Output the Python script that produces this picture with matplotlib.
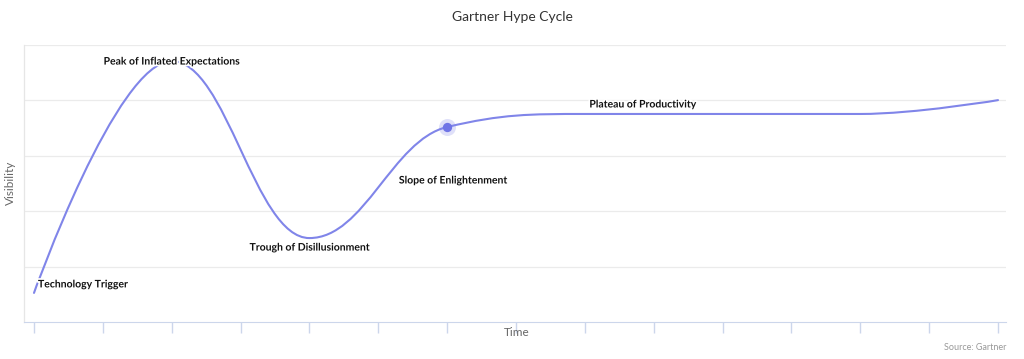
import matplotlib
matplotlib.use("Agg")
import matplotlib.pyplot as plt
from matplotlib.path import Path
from matplotlib.patches import PathPatch
import matplotlib.patheffects as pe

# ---- data ----
time_pos = [0, 2, 4, 6, 8, 12, 14]
visibility = [10.5, 94.2, 30.3, 70.4, 75.1, 75.1, 80.1]
tick_positions = list(range(15))
phase_names = ["Technology Trigger", "Peak of Inflated Expectations",
               "Trough of Disillusionment", "Slope of Enlightenment",
               "Plateau of Productivity"]
phase_point = [0, 1, 2, 3, 4]   # index into the series each label is attached to
highlight_point = 3
title = "Gartner Hype Cycle"
x_title = "Time"
y_title = "Visibility"
credit = "Source: Gartner"

line_color = "#8085e9"
plt.rcParams['font.family'] = ['Lato', 'DejaVu Sans']

fig = plt.figure(figsize=(10.24, 3.59), dpi=100)
fig.patch.set_facecolor("white")
W, H = 1024, 359
ax = fig.add_axes([24 / W, (H - 322) / H, (1006 - 24) / W, (322 - 45) / H])
ppu = (998 - 34) / 14.0
ax.set_xlim(0 - (34 - 24) / ppu, 14 + (1006 - 998) / ppu)
ax.set_ylim(0, 100)


# Highcharts-style spline (smoothing 1.5, with overshoot clamping)
def spline_path(xs, ys, smoothing=1.5):
    n = len(xs)
    ctrl = []
    for i in range(n):
        if i == 0 or i == n - 1:
            ctrl.append(((xs[i], ys[i]), (xs[i], ys[i])))
            continue
        d = smoothing + 1
        lx = (smoothing * xs[i] + xs[i - 1]) / d
        ly = (smoothing * ys[i] + ys[i - 1]) / d
        rx = (smoothing * xs[i] + xs[i + 1]) / d
        ry = (smoothing * ys[i] + ys[i + 1]) / d
        corr = ((ry - ly) * (rx - xs[i])) / (rx - lx) + ys[i] - ry
        ly += corr
        ry += corr
        if ly > ys[i - 1] and ly > ys[i]:
            ly = max(ys[i - 1], ys[i]); ry = 2 * ys[i] - ly
        elif ly < ys[i - 1] and ly < ys[i]:
            ly = min(ys[i - 1], ys[i]); ry = 2 * ys[i] - ly
        if ry > ys[i + 1] and ry > ys[i]:
            ry = max(ys[i + 1], ys[i]); ly = 2 * ys[i] - ry
        elif ry < ys[i + 1] and ry < ys[i]:
            ry = min(ys[i + 1], ys[i]); ly = 2 * ys[i] - ry
        ctrl.append(((lx, ly), (rx, ry)))
    verts = [(xs[0], ys[0])]
    codes = [Path.MOVETO]
    for i in range(1, n):
        verts += [ctrl[i - 1][1], ctrl[i][0], (xs[i], ys[i])]
        codes += [Path.CURVE4] * 3
    return Path(verts, codes)


for y in [20, 40, 60, 80, 100]:
    ax.axhline(y, color="#ebebeb", lw=0.9, zorder=0)

path = spline_path(time_pos, visibility)
ax.add_patch(PathPatch(path, facecolor="none", edgecolor=line_color, lw=1.5, zorder=3,
                       capstyle="round"))

# highlighted (hovered) point
hx, hy = time_pos[highlight_point], visibility[highlight_point]
ax.scatter([hx], [hy], s=150, color=line_color, alpha=0.25, lw=0, zorder=4)
ax.scatter([hx], [hy], s=45, color="#6f74e6", lw=0, zorder=5)

outline = [pe.withStroke(linewidth=2.5, foreground="white")]
label_offsets = [(4, 8, "left"), (0, -1, "center"), (0, -10, "center"),
                 (6, -54, "center"), (58, 9, "center")]
for name, pi, (dx, dy, ha) in zip(phase_names, phase_point, label_offsets):
    ax.annotate(name, (time_pos[pi], visibility[pi]), xytext=(dx, dy),
                textcoords="offset pixels", ha=ha, va="center", fontsize=7.5,
                fontweight="bold", color="#111111", path_effects=outline, zorder=6)

ax.set_xticks(tick_positions)
ax.set_xticklabels([])
ax.set_yticks([])
ax.tick_params(axis="x", length=8, color="#ccd6eb", width=1, direction="out")
for s in ["top", "right"]:
    ax.spines[s].set_visible(False)
ax.spines["bottom"].set_color("#ccd6eb")
ax.spines["left"].set_color("#e6e6e6")
ax.spines["left"].set_linewidth(0.9)

fig.text(512 / W, 1 - 17 / H, title, ha="center", va="center", fontsize=10, color="#333333")
fig.text(517 / W, 1 - 333 / H, x_title, ha="center", va="center", fontsize=8.5, color="#666666")
fig.text(10 / W, 1 - 183 / H, y_title, ha="center", va="center", rotation=90, fontsize=8.5,
         color="#666666")
fig.text(1006 / W, 1 - 348 / H, credit, ha="right", va="center", fontsize=6.5, color="#999999")

fig.savefig("out.png", dpi=100)
